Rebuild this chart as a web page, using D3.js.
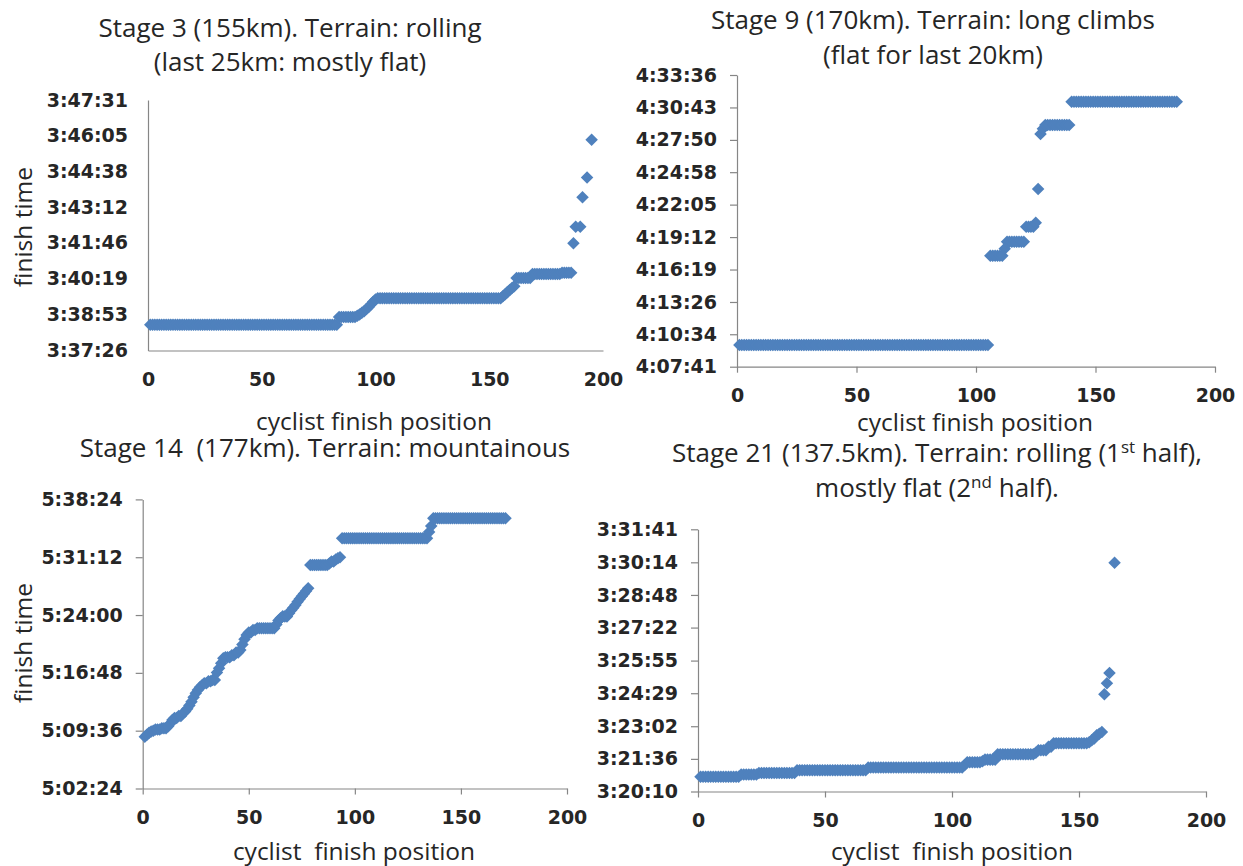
<!DOCTYPE html>
<html>
<head>
<meta charset="utf-8">
<title>Stage finish times</title>
<script src="https://cdn.jsdelivr.net/npm/d3@7/dist/d3.min.js"></script>
<style>
  body { margin: 0; background: #fff; }
  svg text { fill: #262626; }
  .tick text { font-family: "DejaVu Sans"; font-weight: bold; font-size: 19px; }
  .axis path, .axis line { stroke: #868686; stroke-width: 1.2; }
  .title { font-family: "Open Sans", Lato; font-size: 26px; white-space: pre; }
  .label { font-family: "Open Sans", Lato; font-size: 24.5px; white-space: pre; }
</style>
</head>
<body>
<script>
var xTicks = [0, 50, 100, 150, 200];

// each group: [first finish position, riders in the group, finish time]
var stage3Ticks = ["3:37:26", "3:38:53", "3:40:19", "3:41:46", "3:43:12", "3:44:38", "3:46:05", "3:47:31"];
var stage3Groups = [
  [1, 83, "3:38:28"], [84, 8, "3:38:47"], [92, 1, "3:38:50"], [93, 1, "3:38:53"], [94, 1, "3:38:57"],
  [95, 1, "3:39:01"], [96, 1, "3:39:06"], [97, 1, "3:39:11"], [98, 1, "3:39:17"], [99, 1, "3:39:24"],
  [100, 1, "3:39:29"], [101, 55, "3:39:32"], [156, 1, "3:39:37"], [157, 1, "3:39:42"], [158, 1, "3:39:47"],
  [159, 1, "3:39:52"], [160, 1, "3:39:57"], [161, 1, "3:40:01"], [162, 7, "3:40:21"], [169, 13, "3:40:31"],
  [182, 5, "3:40:34"], [187, 1, "3:41:45"], [188, 1, "3:42:25"], [190, 1, "3:42:25"], [191, 1, "3:43:36"],
  [193, 1, "3:44:24"], [195, 1, "3:45:55"]
];

var stage9Ticks = ["4:07:41", "4:10:34", "4:13:26", "4:16:19", "4:19:12", "4:22:05", "4:24:58", "4:27:50", "4:30:43", "4:33:36"];
var stage9Groups = [
  [1, 105, "4:09:37"], [106, 6, "4:17:33"], [112, 1, "4:18:10"], [113, 8, "4:18:47"], [121, 4, "4:20:07"],
  [125, 1, "4:20:28"], [126, 1, "4:23:28"], [127, 1, "4:28:22"], [128, 1, "4:28:50"], [129, 11, "4:29:10"],
  [140, 45, "4:31:14"]
];

var stage14Ticks = ["5:02:24", "5:09:36", "5:16:48", "5:24:00", "5:31:12", "5:38:24"];
var stage14Groups = [
  [1, 1, "5:08:51"], [2, 1, "5:09:05"], [3, 1, "5:09:20"], [4, 1, "5:09:30"], [5, 1, "5:09:36"],
  [6, 3, "5:09:45"], [9, 3, "5:09:54"], [12, 1, "5:10:10"], [13, 1, "5:10:30"], [14, 1, "5:10:56"],
  [15, 2, "5:11:10"], [17, 2, "5:11:25"], [19, 1, "5:11:46"], [20, 1, "5:12:00"], [21, 1, "5:12:20"],
  [22, 1, "5:12:45"], [23, 1, "5:13:13"], [24, 1, "5:13:45"], [25, 1, "5:14:15"], [26, 1, "5:14:40"],
  [27, 1, "5:15:00"], [28, 1, "5:15:15"], [29, 2, "5:15:30"], [31, 2, "5:15:45"], [33, 2, "5:15:55"],
  [35, 1, "5:16:50"], [36, 1, "5:17:22"], [37, 1, "5:18:00"], [38, 1, "5:18:37"], [39, 3, "5:18:45"],
  [42, 2, "5:19:00"], [44, 2, "5:19:20"], [46, 1, "5:19:39"], [47, 1, "5:20:20"], [48, 1, "5:21:00"],
  [49, 1, "5:21:31"], [50, 2, "5:21:50"], [52, 2, "5:22:08"], [54, 9, "5:22:21"], [63, 1, "5:22:50"],
  [64, 1, "5:23:20"], [65, 1, "5:23:36"], [66, 3, "5:23:50"], [69, 1, "5:24:13"], [70, 1, "5:24:35"],
  [71, 1, "5:24:55"], [72, 1, "5:25:15"], [73, 1, "5:25:40"], [74, 1, "5:26:00"], [75, 1, "5:26:20"],
  [76, 1, "5:26:40"], [77, 1, "5:27:00"], [78, 1, "5:27:20"], [79, 9, "5:30:14"], [88, 1, "5:30:25"],
  [89, 2, "5:30:40"], [91, 1, "5:30:55"], [92, 1, "5:31:04"], [93, 1, "5:31:12"], [94, 41, "5:33:34"],
  [135, 1, "5:34:20"], [136, 1, "5:35:05"], [137, 35, "5:36:03"]
];

var stage21Ticks = ["3:20:10", "3:21:36", "3:23:02", "3:24:29", "3:25:55", "3:27:22", "3:28:48", "3:30:14", "3:31:41"];
var stage21Groups = [
  [1, 16, "3:20:49"], [17, 7, "3:20:55"], [24, 15, "3:20:59"], [39, 28, "3:21:06"], [67, 38, "3:21:13"],
  [105, 1, "3:21:20"], [106, 6, "3:21:27"], [112, 1, "3:21:30"], [113, 5, "3:21:34"], [118, 15, "3:21:48"],
  [133, 1, "3:21:52"], [134, 4, "3:21:59"], [138, 2, "3:22:08"], [140, 14, "3:22:17"], [154, 1, "3:22:20"],
  [155, 1, "3:22:25"], [156, 1, "3:22:30"], [157, 1, "3:22:38"], [158, 1, "3:22:42"], [159, 1, "3:22:47"],
  [160, 1, "3:24:26"], [161, 1, "3:24:55"], [162, 1, "3:25:22"], [164, 1, "3:30:13"]
];

function toSec(s) {
  var p = s.split(":").map(Number);
  return p[0] * 3600 + p[1] * 60 + p[2];
}
function expand(groups) {
  var pts = [];
  groups.forEach(function(g) {
    for (var i = 0; i < g[1]; i++) pts.push({ pos: g[0] + i, t: toSec(g[2]) });
  });
  return pts;
}

var w = 1243, h = 866;
var svg = d3.select("body").append("svg").attr("width", w).attr("height", h);

var panels = [
  { ticks: stage3Ticks, groups: stage3Groups, x: [148, 603], y: [350.5, 100], tick: 0,
    title: [["Stage 3 (155km). Terrain: rolling"], ["(last 25km: mostly flat)"]], tx: 290, ty: [37, 71],
    xlab: "cyclist finish position", xl: [374, 430], ylab: [24, 227] },
  { ticks: stage9Ticks, groups: stage9Groups, x: [737, 1215], y: [366.7, 75], tick: 7,
    title: [["Stage 9 (170km). Terrain: long climbs"], ["(flat for last 20km)"]], tx: 933, ty: [29, 64],
    xlab: "cyclist finish position", xl: [975, 431], ylab: null },
  { ticks: stage14Ticks, groups: stage14Groups, x: [142.7, 567], y: [788.5, 499.4], tick: 7,
    title: [["Stage 14  (177km). Terrain: mountainous"]], tx: 325, ty: [457],
    xlab: "cyclist  finish position", xl: [354, 860], ylab: [24, 643] },
  { ticks: stage21Ticks, groups: stage21Groups, x: [698, 1206], y: [791.5, 529.3], tick: 7,
    title: [["Stage 21 (137.5km). Terrain: rolling (1", "st", " half),"], ["mostly flat (2", "nd", " half)."]],
    tx: 937, ty: [462, 497],
    xlab: "cyclist  finish position", xl: [952, 860], ylab: null }
];

var diamond = d3.symbol().type(d3.symbolDiamond2).size(100);

panels.forEach(function(p) {
  var xs = d3.scaleLinear().domain([0, 200]).range(p.x);
  var ys = d3.scaleLinear()
    .domain([toSec(p.ticks[0]), toSec(p.ticks[p.ticks.length - 1])])
    .range(p.y);

  var yAxis = d3.axisLeft(ys)
    .tickValues(p.ticks.map(toSec))
    .tickFormat(function(d, i) { return p.ticks[i]; })
    .tickSize(p.tick).tickSizeOuter(0).tickPadding(20 - p.tick);
  svg.append("g").attr("class", "axis")
    .attr("transform", "translate(" + p.x[0] + ",0)")
    .call(yAxis);

  var xAxis = d3.axisBottom(xs)
    .tickValues(xTicks)
    .tickSize(p.tick ? 6 : 0).tickSizeOuter(0).tickPadding(p.tick ? 16 : 22);
  svg.append("g").attr("class", "axis")
    .attr("transform", "translate(0," + p.y[0] + ")")
    .call(xAxis);

  svg.selectAll(".axis .domain").attr("stroke", "#868686");
  svg.selectAll(".axis text").attr("fill", "#262626");

  svg.append("g").selectAll("path")
    .data(expand(p.groups))
    .enter().append("path")
    .attr("d", diamond)
    .attr("transform", function(d) { return "translate(" + xs(d.pos) + "," + ys(d.t) + ")"; })
    .attr("fill", "#4F81BD");

  p.title.forEach(function(line, li) {
    var t = svg.append("text").attr("class", "title")
      .attr("x", p.tx).attr("y", p.ty[li]).attr("text-anchor", "middle");
    line.forEach(function(part, k) {
      var ts = t.append("tspan").text(part);
      if (k === 1) ts.attr("dy", -9).attr("font-size", "17px");
      if (k === 2) ts.attr("dy", 9);
    });
  });

  svg.append("text").attr("class", "label")
    .attr("x", p.xl[0]).attr("y", p.xl[1]).attr("text-anchor", "middle")
    .text(p.xlab);

  if (p.ylab) {
    svg.append("text").attr("class", "label")
      .attr("transform", "translate(" + (p.ylab[0] + 8) + "," + p.ylab[1] + ") rotate(-90)")
      .attr("text-anchor", "middle")
      .text("finish time");
  }
});
</script>
</body>
</html>
